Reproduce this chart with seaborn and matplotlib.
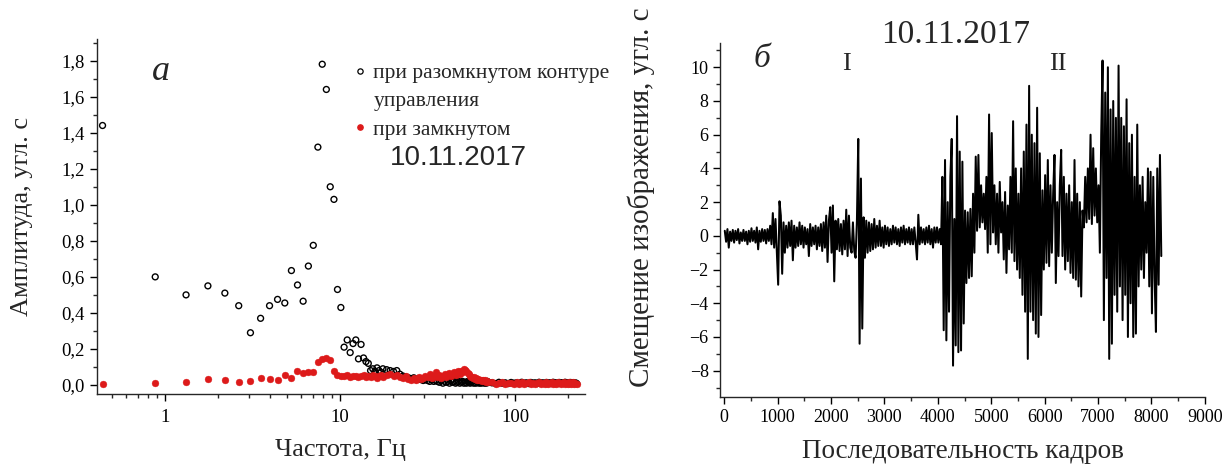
import numpy as np
import pandas as pd
import matplotlib
matplotlib.use("Agg")
import matplotlib.pyplot as plt
import seaborn as sns
from matplotlib.ticker import MultipleLocator, FuncFormatter, FixedLocator, LogLocator, NullFormatter
from matplotlib.lines import Line2D
from matplotlib.font_manager import FontProperties

# ---------------- panel a: amplitude spectra ----------------
BIN_HZ = 0.4395  # FFT bin width, Hz
bins = (list(range(1, 41)) + list(range(42, 81, 2)) +
        list(range(82, 161, 2)) + list(range(168, 513, 8)))

amp_open = [
    1.44, 0.60, 0.50, 0.55, 0.51, 0.44, 0.29, 0.37, 0.44, 0.475, 0.455, 0.635,
    0.555, 0.465, 0.66, 0.775, 1.32, 1.78, 1.64, 1.10, 1.03, 0.53, 0.43,
    0.21, 0.25, 0.18, 0.23, 0.25, 0.145, 0.225, 0.15, 0.13, 0.12, 0.08, 0.09,
    0.075, 0.095, 0.08, 0.07, 0.09,
    0.085, 0.08, 0.075, 0.08, 0.06, 0.05, 0.045, 0.04, 0.035, 0.04,
    0.03, 0.035, 0.03, 0.025, 0.03, 0.025, 0.02, 0.03, 0.02, 0.025,
    0.02, 0.015, 0.025, 0.01, 0.02, 0.015, 0.02, 0.01, 0.025, 0.015,
    0.02, 0.01, 0.015, 0.02, 0.01, 0.015, 0.02, 0.01, 0.015, 0.01,
    0.02, 0.015, 0.01, 0.015, 0.02, 0.01, 0.015, 0.01, 0.02, 0.015,
    0.01, 0.015, 0.01, 0.02, 0.015, 0.01, 0.015, 0.01, 0.02, 0.015,
    0.012, 0.008, 0.015, 0.01, 0.012, 0.008, 0.014, 0.01, 0.012, 0.008, 0.015,
    0.01, 0.012, 0.008, 0.014, 0.01, 0.012, 0.008, 0.015, 0.01, 0.012, 0.008,
    0.014, 0.01, 0.012, 0.008, 0.015, 0.01, 0.012, 0.008, 0.014, 0.01, 0.012,
    0.008, 0.015, 0.01, 0.012, 0.008, 0.014, 0.01, 0.012, 0.008, 0.012, 0.008,
]

amp_closed = [
    0.008, 0.01, 0.017, 0.033, 0.028, 0.018, 0.024, 0.037, 0.031, 0.030, 0.054,
    0.041, 0.076, 0.069, 0.074, 0.072, 0.128, 0.143, 0.152, 0.139, 0.080, 0.056,
    0.05,
    0.05, 0.055, 0.045, 0.05, 0.05, 0.045, 0.05, 0.055, 0.045, 0.05, 0.045,
    0.055, 0.05, 0.04, 0.05, 0.055, 0.045,
    0.055, 0.06, 0.05, 0.055, 0.045, 0.04, 0.05, 0.035, 0.03, 0.04,
    0.03, 0.045, 0.035, 0.04, 0.05, 0.045, 0.06, 0.04, 0.05, 0.07,
    0.045, 0.055, 0.04, 0.05, 0.06, 0.045, 0.055, 0.065, 0.05, 0.06,
    0.07, 0.055, 0.065, 0.075, 0.06, 0.08, 0.07, 0.09, 0.085, 0.075,
    0.065, 0.06, 0.05, 0.045, 0.04, 0.045, 0.035, 0.04, 0.03, 0.035,
    0.03, 0.025, 0.03, 0.02, 0.025, 0.02, 0.025, 0.015, 0.02, 0.015,
    0.014, 0.006, 0.01, 0.016, 0.004, 0.01, 0.012, 0.005, 0.014, 0.008, 0.016,
    0.004, 0.01, 0.014, 0.006, 0.012, 0.004, 0.01, 0.016, 0.006, 0.012, 0.004,
    0.014, 0.008, 0.01, 0.016, 0.004, 0.012, 0.006, 0.014, 0.01, 0.004, 0.012,
    0.016, 0.006, 0.01, 0.004, 0.014, 0.008, 0.012, 0.016, 0.004, 0.01, 0.008,
]

legend_labels = ["при разомкнутом контуре", "управления", "при замкнутом"]
date_label = "10.11.2017"

# ---------------- panel b: image offset vs frame ----------------
FRAME_STEP = 25
offset = [
    0.3, -0.35, 0.4, -0.7, 0.25, -0.3, 0.35, -0.4, 0.3, -0.25, 0.4, -0.45, 0.2, -0.3, 0.35, -0.3, 0.25, -0.5, 0.3, -0.35,
    0.45, -0.3, 0.3, -0.4, 0.5, -0.8, 0.3, -0.35, 0.4, -0.3, 0.35, -0.45, 0.4, -0.3, 0.6, -0.5, 1.35, -0.7, 1.0, -0.9,
    -2.9, 2.05, 1.2, -2.25, 0.8, -1.0, 0.6, -0.7, 0.8, -0.6, 0.9, -1.45, 0.6, -0.7, 0.5, -0.6, 0.8, -0.5, 0.6, -0.7,
    0.5, -0.5, 0.4, -1.2, 0.7, -0.6, 0.5, -0.5, 0.6, -0.8, 0.5, -0.6, 0.7, -0.9, 0.8, -0.7, 1.2, -1.55, 0.9, 1.7,
    -1.0, 1.8, -2.7, 0.9, -0.8, 1.0, -0.9, 0.7, -1.1, 0.9, -0.8, 1.55, -1.2, 1.2, -0.7, -1.0, 0.8, -0.9, -1.3, 0.9,
    5.75, -6.4, 3.4, -5.5, 1.1, -1.3, 0.9, -1.0, 0.8, -0.9, 0.7, -0.8, 1.0, -0.7, 0.6, -0.6, 0.9, -0.6, 0.5, -0.7,
    0.6, -0.5, 0.5, -0.6, 0.4, -0.5, 0.6, -0.4, 0.5, -0.5, 0.4, -0.6, 0.5, -0.4, 0.6, -0.5, 0.4, -0.4, 0.5, -0.5,
    0.4, -0.5, 0.5, -0.4, -1.4, 1.25, -0.5, 0.5, -0.4, 0.4, -0.5, 0.5, -0.4, 0.6, -0.5, 0.4, -0.7, 0.5, -0.4, 0.5,
    -0.4, 0.4, -0.5, 3.5, -5.6, 4.5, -6.2, 2.0, -4.5, 3.5, 5.75, -7.7, 1.0, -6.5, 7.1, -6.9, 5.0, -6.8, 4.4, -5.2,
    1.5, -2.8, 1.4, -2.5, 1.6, -2.4, 2.5, -1.0, 4.7, 0.3, 4.8, 0.5, 3.0, 0.8, 2.5, 0.4, 3.5, -1.0, 7.2, -0.5,
    6.1, 0.2, 3.0, -0.5, 2.5, -1.0, 3.2, 0.2, 2.0, -1.4, 2.6, -2.2, 1.8, -0.8, 3.5, -1.0, 6.8, -1.5, 4.0, -2.0,
    2.5, -2.5, 4.0, -3.5, 5.0, -4.5, 6.6, -7.3, 8.9, -4.5, 6.0, -5.0, 5.5, -5.8, 7.6, -6.0, 4.9, -4.7, 2.7, -2.0,
    3.6, -1.6, 4.5, -1.8, 3.0, -1.0, 2.5, 4.8, -2.8, 2.0, -1.2, 3.0, 5.1, -1.2, 3.5, -2.0, 2.5, -1.5, 3.0, -2.2,
    2.0, -2.5, 4.5, -2.6, 2.5, -3.0, 2.0, -3.6, 1.5, 0.5, 3.5, 0.8, 4.0, 1.0, 6.0, 0.7, 5.2, 1.2, 4.0, 0.8,
    3.0, -1.0, 6.0, 10.4, -5.0, 8.5, -2.5, 10.0, -7.3, 7.5, -6.4, 8.0, -3.5, 7.0, -4.5, 10.1, -3.0, 7.0, -5.0, 6.5,
    -3.5, 8.1, -6.0, 5.5, -4.0, 6.0, -6.0, 3.5, -5.8, 6.6, -3.0, 3.0, -2.0, 3.5, -2.5, 2.0, -1.0, 4.0, -3.0, 3.8,
    -4.6, 3.5, -2.5, -5.7, 4.0, -2.9, 4.8, -1.2,
]

x_label_a = "Частота, Гц"
y_label_a = "Амплитуда, угл. с"
x_label_b = "Последовательность кадров"
y_label_b = "Смещение изображения, угл. с"

# ---------------- build frames ----------------
df_open = pd.DataFrame({"freq": np.array(bins) * BIN_HZ, "amp": amp_open})
df_closed = pd.DataFrame({"freq": np.array(bins) * BIN_HZ, "amp": amp_closed})
df_b = pd.DataFrame({"frame": np.arange(len(offset)) * FRAME_STEP + 10, "offset": offset})

sns.set_theme(style="ticks")
plt.rcParams["font.family"] = ["Liberation Serif", "DejaVu Serif"]
plt.rcParams["axes.linewidth"] = 1.0

W, H = 1231, 471
fig = plt.figure(figsize=(W / 100, H / 100), dpi=100, facecolor="white")
RED = "#dd1a1a"

# ---------------- panel a ----------------
ax1 = fig.add_axes([96.7 / W, 1 - 394 / H, (585 - 96.7) / W, (394 - 39) / H])
sns.scatterplot(data=df_open, x="freq", y="amp", ax=ax1, marker="o", s=18,
                facecolors="none", edgecolor="black", linewidth=1.0, zorder=3)
sns.scatterplot(data=df_closed, x="freq", y="amp", ax=ax1, marker="o", s=24,
                color=RED, edgecolor=RED, linewidth=0.3, zorder=4)
ax1.set_xscale("log")
ax1.set_xlim(0.407, 251)
ax1.set_ylim(-0.05, 1.92)
ax1.yaxis.set_major_locator(MultipleLocator(0.2))
ax1.yaxis.set_minor_locator(MultipleLocator(0.1))
ax1.yaxis.set_major_formatter(FuncFormatter(lambda v, p: f"{v:.1f}".replace(".", ",")))
ax1.xaxis.set_major_locator(FixedLocator([1, 10, 100]))
ax1.xaxis.set_major_formatter(FuncFormatter(lambda v, p: f"{v:g}"))
ax1.xaxis.set_minor_locator(LogLocator(base=10, subs=np.arange(2, 10)))
ax1.xaxis.set_minor_formatter(NullFormatter())
sns.despine(ax=ax1)
ax1.tick_params(which="major", direction="out", length=5, width=1, labelsize=13.5, colors="black")
ax1.tick_params(which="minor", direction="out", length=3, width=1)
ax1.tick_params(axis="x", which="major", pad=6)
ax1.set_xlabel(x_label_a, fontsize=19)
ax1.set_ylabel(y_label_a, fontsize=19)
ax1.xaxis.set_label_coords(0.5, -0.158)
ax1.xaxis.label.set_va("center")
ax1.yaxis.set_label_coords(-0.153, 0.5)
ax1.yaxis.label.set_va("center")

h1 = Line2D([], [], marker="o", linestyle="none", markerfacecolor="none",
            markeredgecolor="black", markersize=3.8, markeredgewidth=0.9)
h2 = Line2D([], [], linestyle="none", marker=None)
h3 = Line2D([], [], marker="o", linestyle="none", color=RED, markersize=3.8)
ax1.legend([h1, h2, h3], legend_labels, loc="upper left",
           bbox_to_anchor=(354 / W, 1 - 63 / H), bbox_transform=fig.transFigure,
           frameon=False, handlelength=0.6, handletextpad=0.3, borderpad=0,
           borderaxespad=0, labelspacing=0.38,
           prop=FontProperties(family="Liberation Serif", size=15.5))
fig.text(458 / W, 1 - 158 / H, date_label, ha="center", va="center",
         fontsize=20, family="Liberation Sans")
fig.text(161 / W, 1 - 80 / H, "а", ha="center", va="baseline",
         fontsize=26, style="italic")

# ---------------- panel b ----------------
ax2 = fig.add_axes([720.5 / W, 1 - 397 / H, (1204.8 - 720.5) / W, (397 - 43) / H])
sns.lineplot(data=df_b, x="frame", y="offset", ax=ax2, color="black",
             linewidth=1.45, estimator=None, sort=False)
ax2.set_xlim(-70, 9000)
ax2.set_ylim(-9.56, 11.44)
ax2.xaxis.set_major_locator(MultipleLocator(1000))
ax2.xaxis.set_minor_locator(MultipleLocator(500))
ax2.yaxis.set_major_locator(FixedLocator([-8, -6, -4, -2, 0, 2, 4, 6, 8, 10]))
ax2.yaxis.set_minor_locator(MultipleLocator(1))
sns.despine(ax=ax2)
ax2.tick_params(which="major", direction="out", length=5, width=1, labelsize=13, colors="black")
ax2.tick_params(which="minor", direction="out", length=3, width=1)
ax2.set_xlabel(x_label_b, fontsize=19.5)
ax2.set_ylabel(y_label_b, fontsize=21)
ax2.xaxis.set_label_coords(0.5, -0.155)
ax2.xaxis.label.set_va("center")
ax2.yaxis.set_label_coords(-0.164, 0.565)
ax2.yaxis.label.set_va("center")

fig.text(956 / W, 1 - 43 / H, date_label, ha="center", va="baseline", fontsize=24)
fig.text(762 / W, 1 - 67 / H, "б", ha="center", va="baseline", fontsize=24, style="italic")
fig.text(846 / W, 1 - 70 / H, "I", ha="center", va="baseline", fontsize=19)
fig.text(1058 / W, 1 - 70 / H, "II", ha="center", va="baseline", fontsize=19)

fig.savefig("out.png", dpi=100, facecolor="white")
